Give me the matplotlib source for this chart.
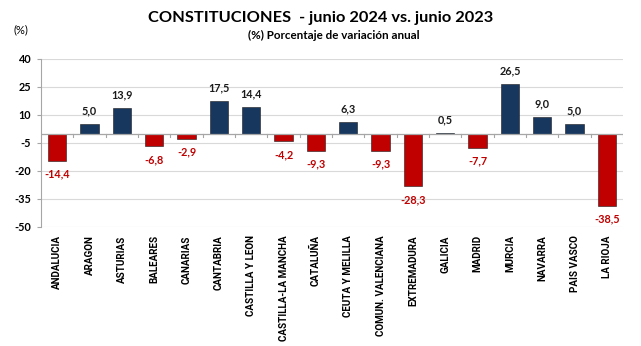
import matplotlib; matplotlib.use("Agg")
import matplotlib.pyplot as plt
import numpy as np

plt.rcParams["font.family"] = ["Lato", "DejaVu Sans"]

regiones = ["ANDALUCIA", "ARAGON", "ASTURIAS", "BALEARES", "CANARIAS", "CANTABRIA",
            "CASTILLA Y LEON", "CASTILLA-LA MANCHA", "CATALUÑA", "CEUTA Y MELILLA",
            "COMUN. VALENCIANA", "EXTREMADURA", "GALICIA", "MADRID", "MURCIA",
            "NAVARRA", "PAIS VASCO", "LA RIOJA"]
variacion = [-14.4, 5.0, 13.9, -6.8, -2.9, 17.5, 14.4, -4.2, -9.3, 6.3, -9.3, -28.3,
             0.5, -7.7, 26.5, 9.0, 5.0, -38.5]
y_ticks = [40, 25, 10, -5, -20, -35, -50]

AZUL, ROJO = "#17375E", "#C00000"

fig = plt.figure(figsize=(6.41, 3.46), dpi=100)
ax = fig.add_axes([0.064, 0.344, 0.908, 0.4855])

x = np.arange(len(regiones))
cols = [AZUL if v >= 0 else ROJO for v in variacion]
ax.bar(x, variacion, width=0.56, color=cols, edgecolor="#1a1a1a", linewidth=0.4, zorder=3)

for xi, v in zip(x, variacion):
    txt = f"{v:.1f}".replace(".", ",")
    if v >= 0:
        ax.annotate(txt, (xi, v), xytext=(0, 5.5), textcoords="offset points",
                    ha="center", va="bottom", fontsize=7.8, fontweight="bold", color="#1a1a1a")
    else:
        ax.annotate(txt, (xi, v), xytext=(0, -5.5), textcoords="offset points",
                    ha="center", va="top", fontsize=7.8, fontweight="bold", color=ROJO)

ax.set_xlim(-0.5, len(regiones) - 0.5)
ax.set_ylim(-50, 40)
ax.set_yticks(y_ticks)
ax.set_yticklabels([str(t) for t in y_ticks], fontsize=7.8, fontweight="bold")
ax.yaxis.grid(True, color="#d9d9d9", lw=0.8, zorder=0)
for s in ["top", "right", "bottom"]:
    ax.spines[s].set_visible(False)
ax.spines["left"].set_color("#a6a6a6")
ax.tick_params(axis="y", length=3, color="#a6a6a6", pad=4)

# category axis at zero with separator ticks between bars
ax.axhline(0, color="#a6a6a6", lw=0.9, zorder=4)
for b in np.arange(0.5, len(regiones) - 0.5 + 1):
    ax.plot([b, b], [0, -1.8], color="#a6a6a6", lw=0.8, zorder=4)

ax.set_xticks(x)
ax.set_xticklabels(regiones, rotation=90, fontsize=7.1, fontweight="bold", va="top",
                   family=["Liberation Sans Narrow", "Roboto"])
ax.tick_params(axis="x", length=0, pad=6)

fig.text(0.5, 0.948, "CONSTITUCIONES  - junio 2024 vs. junio 2023", ha="center", va="center",
         fontsize=11.8, fontweight="bold")
fig.text(0.52, 0.897, "(%) Porcentaje de variación anual", ha="center", va="center",
         fontsize=8.4, fontweight="bold")
fig.text(0.032, 0.915, "(%)", ha="center", va="center", fontsize=8)

fig.savefig("out.png", dpi=100)
